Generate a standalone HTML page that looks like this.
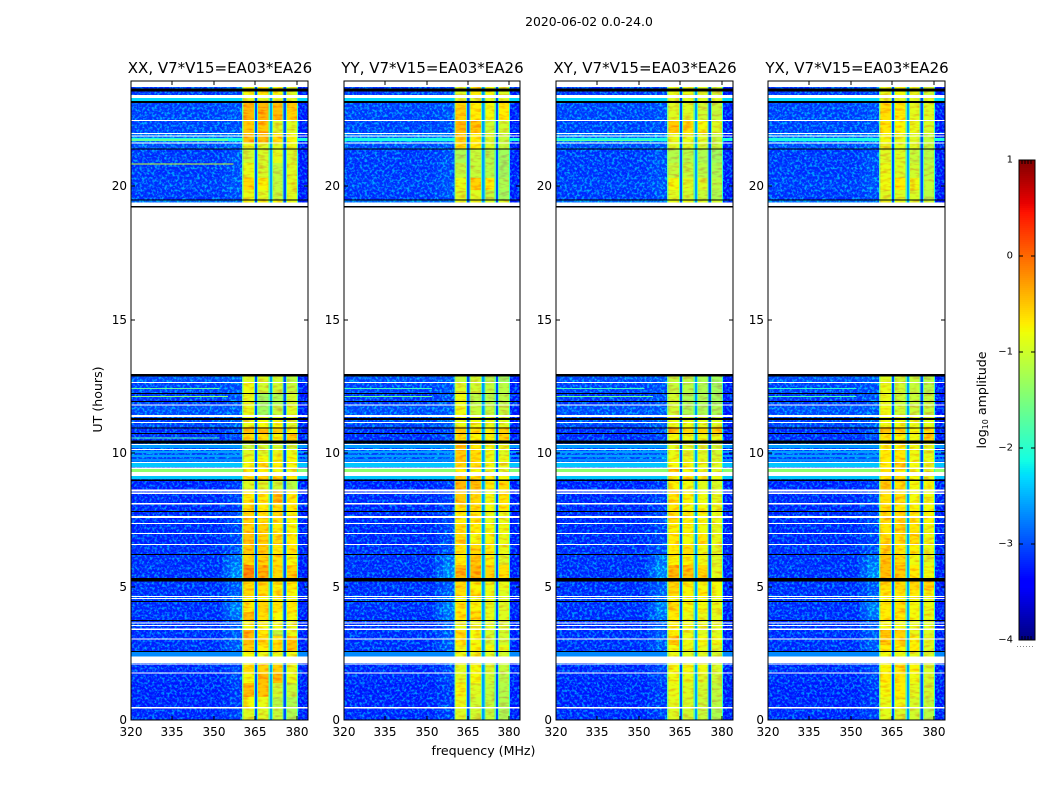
<!DOCTYPE html>
<html lang="en">
<head>
<meta charset="utf-8">
<title>2020-06-02 amplitude spectrograms</title>
<style>
html,body{margin:0;padding:0;background:#fff;width:1050px;height:800px;overflow:hidden}
svg{display:block}
text{font-family:"DejaVu Sans","Liberation Sans",sans-serif;fill:#000}
</style>
</head>
<body>
<svg id="chart" xmlns="http://www.w3.org/2000/svg" width="1050" height="800" viewBox="0 0 1050 800">
<defs>
<filter id="speckle" x="0" y="0" width="100%" height="100%" color-interpolation-filters="sRGB">
<feTurbulence type="fractalNoise" baseFrequency="0.4" numOctaves="2" seed="7"/>
<feColorMatrix type="matrix" values="0 0 0 0 0  3.4 0 0 0 -1.5  0 0 0 0 1  0 0 0 0 0.5"/>
</filter>
<filter id="band-speckle" x="0" y="0" width="100%" height="100%" color-interpolation-filters="sRGB">
<feTurbulence type="fractalNoise" baseFrequency="0.12 0.35" numOctaves="2" seed="11"/>
<feColorMatrix type="matrix" values="0 0 0 0 1  2.6 0 0 0 -0.45  0 0 0 0 0  0 0 0 0 0.28"/>
</filter>
</defs>
<text x="589" y="26" text-anchor="middle" font-size="12.4">2020-06-02 0.0-24.0</text>
<text x="483.5" y="755" text-anchor="middle" font-size="12.6">frequency (MHz)</text>
<text transform="translate(102,399.5) rotate(-90)" text-anchor="middle" font-size="12.6">UT (hours)</text>
<text transform="translate(986,400) rotate(-90)" text-anchor="middle" font-size="12.6">log<tspan font-size="8" dy="2">10</tspan><tspan dy="-2"> amplitude</tspan></text>
</svg>
<script>
// Panel names
const panelTitles = ['XX, V7*V15=EA03*EA26', 'YY, V7*V15=EA03*EA26', 'XY, V7*V15=EA03*EA26', 'YX, V7*V15=EA03*EA26'];
// Axis ticks
const freqTicks = [320, 335, 350, 365, 380];
const hourTicks = [0, 5, 10, 15, 20];
const colorTicks = [1, 0, -1, -2, -3, -4];
// Time rows in UT hours: start, end (top to bottom)
const timeRows = [[23.71,23.30],[23.30,23.16],[23.16,22.47],[22.47,21.99],[21.99,21.63],[21.63,21.39],[21.39,20.86],[20.86,20.30],[20.30,19.85],[19.85,19.47],[19.47,19.20],
[12.93,12.66],[12.66,12.25],[12.25,11.80],[11.80,11.42],[11.42,11.23],[11.23,10.97],[10.97,10.71],[10.71,10.37],[10.37,10.15],[10.15,9.89],[9.89,9.66],[9.66,9.40],[9.40,9.29],[9.29,8.98],[8.98,8.62],[8.62,8.10],[8.10,7.79],[7.79,7.34],[7.34,6.97],[6.97,6.56],[6.56,6.18],[6.18,5.81],[5.81,5.21],[5.21,4.87],[4.87,4.64],[4.64,4.42],[4.42,4.04],[4.04,3.70],[3.70,3.40],[3.40,3.15],[3.15,2.81],[2.81,2.55],[2.55,2.1],[2.1,1.73],[1.73,1.39],[1.39,0.86],[0.86,0.45],[0.45,0]];
// Frequency bands in MHz
const leftFreqBand = [320, 353];
const blendFreqBand = [353, 356];
const glowFreqBand = [356, 360.2];
const edgeFreqBand = [360.2, 360.6];
const channelBands = [[360.6,364.8],[365.6,370.2],[371,375.2],[376,380]];
const gapBands = [[364.8,365.6],[370.2,371],[375.2,376]];
const haloBands = [[364.4,364.8],[365.6,366],[369.8,370.2],[371,371.4],[374.8,375.2],[376,376.4]];
const tailFreqBand = [380, 380.4];
const rightFreqBand = [380.4, 384];
// log10 amplitude values
const gapValues = [-3.0, -2.6, -3.0];
const haloValue = -1.8;
const edgeValue = -1.6;
const tailValue = -2.0;
const rightValue = -3.25;
const bgLeft = [-3.0,-2.3,-2.9,-2.9,-2.5,-2.8,-3.0,-3.0,-2.95,-3.0,-2.5,-2.8,-2.9,-3.0,-2.8,-2.8,-2.9,-3.1,-3.1,-2.8,-2.8,-2.8,-2.8,-2.7,-2.6,-3.2,-3.15,-3.15,-3.15,-3.15,-3.15,-3.1,-3.1,-3.1,-3.1,-3.1,-3.0,-3.1,-3.1,-3.1,-3.1,-3.1,-3.1,-2.9,-3.15,-3.15,-3.2,-3.2,-3.15];
const bgGlow = [-2.9,-2.3,-2.8,-2.8,-2.4,-2.7,-2.8,-2.8,-2.75,-2.8,-2.5,-2.7,-2.8,-2.8,-2.7,-2.7,-2.7,-2.9,-2.9,-2.6,-2.6,-2.5,-2.5,-1.6,-2.5,-3.0,-2.95,-2.95,-2.9,-2.9,-2.9,-2.8,-2.5,-2.3,-2.7,-2.7,-2.6,-2.4,-2.5,-2.7,-2.7,-2.7,-2.7,-2.6,-2.9,-2.9,-3.0,-3.0,-2.95];
const ampXX = [[-.8,-.7,-.8,-1.0],[-1,-1,-1,-1],[-.3,-.3,-.35,-.5],[-.45,-.45,-1.0,-1.0],[-.35,-.35,-.6,-.8],[-.9,-1,-1,-.9],[-1.1,-1.05,-.95,-1.05],[-.9,-1.05,-1.25,-1.0],[-.55,-.75,-1.25,-.95],[-.9,-1,-1.2,-1],[-.8,-.8,-.8,-.9],
[-1.0,-1.0,-1.1,-1.3],[-.85,-1.1,-1.1,-1.2],[-.9,-1.5,-1.4,-1.1],[-.9,-1.5,-1.2,-1.0],[-.9,-1,-1,-1],[-.9,-.8,-.8,-1.0],[-.35,-.4,-.45,-.8],[-.6,-.6,-.75,-.5],[-1.2,-1.1,-1.1,-1.1],[-1.0,-1.0,-.9,-.9],[-.9,-.8,-.8,-.8],[-.8,-.6,-.7,-.8],[-.75,-.7,-.85,-.9],[-.7,-.5,-.5,-.7],[-1.0,-1.0,-1.1,-1.3],[-.7,-.7,-.35,-.7],[-.6,-.7,-.6,-.7],[-.5,-.6,-.6,-.8],[-.5,-.5,-.7,-.8],[-.4,-.5,-.6,-.7],[-.45,-.45,-.7,-.7],[-.55,-.5,-.6,-.8],[0.0,-.25,-.55,-.5],[-.6,-.6,-.75,-.7],[-.55,-.6,-.7,-.8],[-.8,-.8,-.8,-.9],[-.7,-.5,-.65,-.7],[-.35,-.6,-.8,-.8],[-.8,-.8,-.85,-.9],[-.3,-.7,-1.2,-.9],[-.35,-.55,-.65,-.4],[-.5,-.7,-.6,-.4],[-.8,-.9,-.9,-.9],[-.6,-.5,-.5,-.9],[-.8,-.35,-.35,-.9],[-.35,-.4,-1.1,-1.2],[-.8,-.9,-1.3,-1.4],[-1.0,-1.0,-1.2,-1.4]];
const ampYY = [[-1.0,-.7,-.8,-1.0],[-1,-1,-1,-1],[-.5,-.7,-.8,-.7],[-.35,-.4,-1.1,-1.1],[-.5,-.7,-1.0,-1.2],[-.6,-.7,-1.0,-1.2],[-1.4,-1.2,-1.3,-1.5],[-1.2,-1.2,-1.3,-1.5],[-.9,-.5,-.7,-1.4],[-1,-1,-1.2,-1.5],[-.9,-.9,-1,-1],
[-1.2,-1.1,-1.3,-1.5],[-1,-1.1,-1.2,-1.3],[-.85,-1.3,-1.3,-1.3],[-.85,-1.2,-1.2,-1.2],[-.9,-.95,-1,-1.1],[-.9,-.85,-.9,-1],[-.45,-.6,-.7,-.5],[-.6,-.75,-.75,-.5],[-.4,-.7,-.8,-.9],[-.45,-.6,-.85,-1],[-.45,-.6,-.85,-.9],[-.5,-.6,-.8,-.9],[-.7,-.8,-.9,-1],[-.5,-.7,-.7,-.8],[-.3,-.35,-.7,-.6],[-.45,-.55,-.8,-.65],[-.65,-.6,-.8,-.7],[-.7,-.65,-.9,-.9],[-.65,-.7,-.8,-.85],[-.6,-.8,-.75,-.9],[-.65,-.55,-.7,-.9],[-.7,-.45,-.7,-1.0],[-.3,-.3,-.5,-.6],[-.55,-.75,-.85,-.9],[-.6,-.65,-.85,-1],[-.85,-.9,-.9,-1],[-.7,-.75,-.9,-1],[-.65,-.6,-.9,-1],[-.9,-.9,-.95,-1.05],[-.6,-.8,-1.05,-1.1],[-.65,-.8,-1.05,-1.1],[-.85,-.75,-.8,-.9],[-.9,-.85,-1,-1.1],[-.95,-.8,-1.0,-1.2],[-.95,-.8,-1.1,-1.3],[-.8,-1.0,-1.2,-1.35],[-.9,-1.1,-1.2,-1.35],[-1.0,-1.1,-1.2,-1.4]];
const ampXY = [[-.9,-.9,-1,-1.1],[-1,-1,-1,-1],[-1,-1,-1.1,-1.2],[-.45,-.6,-.8,-1.0],[-.9,-.9,-1.0,-1.2],[-1,-1,-1.1,-1.2],[-1.35,-1.3,-1.4,-1.5],[-1.2,-1.2,-1.3,-1.4],[-.8,-1,-1,-1.3],[-1,-1.1,-1.2,-1.4],[-.9,-.9,-1,-1.1],
[-1.2,-1.25,-1.4,-1.5],[-1.2,-1.3,-1.4,-1.5],[-1.1,-1.4,-1.4,-1.5],[-1.1,-1.4,-1.4,-1.4],[-1,-1.1,-1.1,-1.2],[-.9,-.9,-.95,-1],[-.4,-.55,-.5,-.45],[-.8,-.85,-.85,-.9],[-.95,-1,-1,-1.1],[-.9,-1,-1,-1.1],[-.85,-.9,-.95,-1.05],[-.8,-.8,-.9,-1],[-.5,-.8,-.9,-1],[-.8,-.7,-.8,-.9],[-.75,-.85,-.95,-1.05],[-.65,-.75,-.85,-.95],[-.65,-.8,-.8,-.9],[-.6,-.75,-.8,-.9],[-.75,-.75,-.85,-.95],[-.7,-.8,-.65,-.9],[-.7,-.6,-.85,-.95],[-.75,-.75,-.85,-1],[-.35,-.4,-.55,-.95],[-.55,-.75,-.8,-.8],[-.6,-.75,-.7,-.85],[-.8,-.85,-.85,-.95],[-.6,-.8,-.8,-.9],[-.7,-.9,-.9,-.95],[-.75,-.85,-.9,-.95],[-.75,-.9,-1,-1],[-.4,-.85,-.8,-.85],[-.8,-.9,-.9,-1],[-.9,-1,-1,-1.1],[-.8,-.8,-.85,-1.05],[-.85,-.9,-1,-1.15],[-.9,-1,-1.1,-1.25],[-.95,-1.05,-1.15,-1.3],[-1,-1.1,-1.2,-1.4]];
const ampYX = [[-.9,-.8,-.9,-1.1],[-1,-1,-1,-1],[-.6,-.7,-.95,-1],[-.65,-.75,-.9,-1.05],[-.8,-.9,-1,-1.2],[-.9,-.95,-1,-1.2],[-1.0,-1.0,-1.2,-1.3],[-.9,-1.0,-1.1,-1.25],[-.85,-.7,-.85,-1.2],[-1,-1,-1.05,-1.3],[-.9,-.9,-1,-1.1],
[-1,-1.1,-1.2,-1.3],[-.9,-1.1,-1.2,-1.3],[-.9,-1.15,-1.2,-1.2],[-.85,-1.1,-1.15,-1.2],[-.9,-1,-1,-1.1],[-.85,-.85,-.9,-.95],[-.4,-.5,-.8,-.6],[-.7,-.75,-.85,-.55],[-.75,-.75,-.85,-.95],[-.7,-.65,-.85,-.95],[-.7,-.65,-.85,-.9],[-.7,-.5,-.8,-.9],[-.6,-.75,-.85,-.95],[-.7,-.6,-.8,-.9],[-.45,-.6,-.8,-.8],[-.6,-.6,-.8,-.85],[-.6,-.65,-.75,-.8],[-.55,-.55,-.7,-.75],[-.65,-.55,-.65,-.85],[-.6,-.6,-.6,-.85],[-.55,-.65,-.75,-.9],[-.4,-.55,-.85,-.95],[-.35,-.45,-.7,-.85],[-.6,-.6,-.55,-.55],[-.7,-.65,-.7,-.8],[-.8,-.8,-.85,-.95],[-.7,-.65,-.8,-.9],[-.7,-.7,-.8,-.9],[-.8,-.85,-.9,-.95],[-.4,-.5,-.9,-1],[-.45,-.55,-.75,-.95],[-.7,-.75,-.7,-1],[-.85,-.9,-.95,-1.05],[-.75,-.65,-.75,-1.05],[-.7,-.65,-.85,-1.05],[-.8,-.7,-.95,-1.1],[-.9,-.85,-1.05,-1.2],[-.95,-1,-1.1,-1.3]];
// Broadband bright rows in the out-of-band background: start hour, end hour, log10 amplitude
const brightRows = [[23.30,23.19,-2.3],[21.80,21.68,-2.1],[10.30,10.19,-2.6],[10.07,10.0,-2.6],[9.93,9.85,-2.6],[9.78,9.68,-2.7],[9.63,9.48,-2.4],[9.40,9.29,-1.4],[9.14,9.03,-2.4],[2.55,2.38,-2.7]];
// Flagged time ranges in UT hours
const whiteFlags = [[24,23.71],[23.41,23.30],[22.47,22.45],[21.98,21.95],[21.89,21.86],[21.63,21.61],[19.39,19.26],[19.20,12.96],[12.66,12.63],[11.81,11.77],[11.42,11.35],[11.17,11.13],[10.34,10.30],[10.15,10.11],[9.66,9.62],[9.45,9.40],[9.29,9.14],[8.64,8.56],[8.52,8.46],[8.12,8.08],[7.64,7.57],[7.38,7.34],[7.01,6.97],[6.59,6.56],[4.64,4.61],[4.57,4.54],[3.66,3.62],[3.55,3.52],[3.43,3.38],[3.05,3.01],[2.38,2.13],[2.11,2.07],[1.77,1.74],[0.48,0.44]];
const blackFlags = [[23.65,23.54],[23.19,23.11],[21.41,21.38],[19.49,19.46],[19.25,19.20],[12.96,12.86],[12.25,12.22],[11.95,11.92],[11.32,11.23],[10.96,10.94],[10.74,10.71],[10.46,10.36],[9.0,8.96],[7.83,7.80],[6.22,6.18],[5.32,5.19],[4.46,4.43],[3.74,3.70],[2.59,2.55]];
// Narrow-band interference: panel index, hour, start MHz, end MHz, log10 amplitude
const rfiLines = [[0,20.84,320,357,-1.0],[0,21.74,320,355,-1.2],[0,12.14,320,355,-1.4],[0,12.43,320,352,-1.7],[0,10.58,320,352,-1.8],[1,12.14,320,352,-1.6],[1,12.43,320,352,-1.9],[2,12.14,320,355,-1.6],[2,12.43,320,352,-1.9],[2,21.72,320,355,-1.7],[3,12.14,320,352,-1.8],[3,12.43,320,352,-2.0]];

const panelAmps = [ampXX, ampYY, ampXY, ampYX];
const panelLeft = [131, 344, 556, 768];
const panelWidth = [177, 176, 177, 177];
const plotTop = 81, plotBottom = 720;
const pxPerHour = 26.7;
const svg = document.getElementById('chart');
const NS = 'http://www.w3.org/2000/svg';

function xScale(p, f) { return panelLeft[p] + (f - 320) * panelWidth[p] / 64; }
function yScale(h) { return Math.max(plotTop, plotBottom - h * pxPerHour); }
function interp(t, pts) {
  for (let i = 1; i < pts.length; i++) {
    if (t <= pts[i][0]) {
      const a = pts[i - 1], b = pts[i];
      return a[1] + (b[1] - a[1]) * (t - a[0]) / (b[0] - a[0]);
    }
  }
  return pts[pts.length - 1][1];
}
function jet(v) {
  const t = Math.max(0, Math.min(1, (v + 4) / 5));
  const r = interp(t, [[0,0],[.35,0],[.66,1],[.89,1],[1,.5]]);
  const g = interp(t, [[0,0],[.125,0],[.375,1],[.64,1],[.91,0],[1,0]]);
  const b = interp(t, [[0,.5],[.11,1],[.34,1],[.65,0],[1,0]]);
  return 'rgb(' + Math.round(r * 255) + ',' + Math.round(g * 255) + ',' + Math.round(b * 255) + ')';
}
function make(tag, parent) {
  const el = document.createElementNS(NS, tag);
  parent.appendChild(el);
  return el;
}
function box(el, x0, x1, y0, y1, fill) {
  el.setAttribute('x', x0);
  el.setAttribute('y', y0);
  el.setAttribute('width', Math.max(x1 - x0, 1));
  el.setAttribute('height', Math.max(y1 - y0, 1));
  el.setAttribute('fill', fill);
  el.setAttribute('shape-rendering', 'crispEdges');
}
function cell(g, p, fa, fb, row, v) {
  const el = make('rect', g);
  
  
  box(el, xScale(p, fa), xScale(p, fb), yScale(row[0]), yScale(row[1]), jet(v));
}
function texture(g, p, fa, fb, filterId) {
  const el = make('rect', g);
  
  
  el.setAttribute('x', xScale(p, fa));
  el.setAttribute('y', plotTop);
  el.setAttribute('width', xScale(p, fb) - xScale(p, fa));
  el.setAttribute('height', plotBottom - plotTop);
  el.setAttribute('filter', 'url(#' + filterId + ')');
}
function tick(g, x1, y1, x2, y2) {
  const el = make('line', g);
  
  
  el.setAttribute('x1', x1);
  el.setAttribute('y1', y1);
  el.setAttribute('x2', x2);
  el.setAttribute('y2', y2);
  el.setAttribute('stroke', '#000');
  el.setAttribute('stroke-width', '1');
  el.setAttribute('shape-rendering', 'crispEdges');
}
function label(g, x, y, anchor, size, str) {
  const el = make('text', g);
  el.setAttribute('x', x);
  el.setAttribute('y', y);
  el.setAttribute('text-anchor', anchor);
  el.setAttribute('font-size', size);
  el.textContent = str;
  return el;
}

panelTitles.forEach(function (title, p) {
  const amps = panelAmps[p];
  const L = panelLeft[p], W = panelWidth[p];
  const g = make('g', svg);
  
  

  timeRows.forEach(function (row, i) {
    cell(g, p, leftFreqBand[0], leftFreqBand[1], row, bgLeft[i]);
    cell(g, p, blendFreqBand[0], blendFreqBand[1], row, (bgLeft[i] + bgGlow[i]) / 2);
    cell(g, p, glowFreqBand[0], glowFreqBand[1], row, bgGlow[i]);
    cell(g, p, rightFreqBand[0], rightFreqBand[1], row, rightValue);
  });
  // receiver-noise speckle texture over the out-of-band background
  texture(g, p, 320, 360.2, 'speckle');
  texture(g, p, 380.4, 384, 'speckle');

  brightRows.forEach(function (b) {
    cell(g, p, leftFreqBand[0], glowFreqBand[1], b, b[2]);
    cell(g, p, rightFreqBand[0], rightFreqBand[1], b, b[2]);
  });

  timeRows.forEach(function (row, i) {
    cell(g, p, edgeFreqBand[0], edgeFreqBand[1], row, edgeValue);
    channelBands.forEach(function (band, c) {
      cell(g, p, band[0], band[1], row, amps[i][c]);
    });
  });
  // in-band ripple texture
  texture(g, p, 360.6, 380, 'band-speckle');
  timeRows.forEach(function (row) {
    haloBands.forEach(function (band) {
      cell(g, p, band[0], band[1], row, haloValue);
    });
    gapBands.forEach(function (band, c) {
      cell(g, p, band[0], band[1], row, gapValues[c]);
    });
    cell(g, p, tailFreqBand[0], tailFreqBand[1], row, tailValue);
  });

  rfiLines.filter(function (r) { return r[0] === p; }).forEach(function (r) {
    const el = make('rect', g);
    
    
    box(el, xScale(p, r[2]), xScale(p, r[3]), yScale(r[1]), yScale(r[1]) + 1, jet(r[4]));
  });
  whiteFlags.forEach(function (f) {
    const el = make('rect', g);
    
    
    box(el, L, L + W, yScale(f[0]), yScale(f[1]), '#fff');
  });
  blackFlags.forEach(function (f) {
    const el = make('rect', g);
    
    
    box(el, L, L + W, yScale(f[0]), yScale(f[1]), '#000');
  });

  const frame = make('rect', g);
  
  
  frame.setAttribute('x', L);
  frame.setAttribute('y', plotTop);
  frame.setAttribute('width', W);
  frame.setAttribute('height', plotBottom - plotTop);
  frame.setAttribute('fill', 'none');
  frame.setAttribute('stroke', '#000');
  frame.setAttribute('stroke-width', '1');
  frame.setAttribute('shape-rendering', 'crispEdges');

  freqTicks.forEach(function (f) {
    const x = Math.round(xScale(p, f));
    tick(g, x, plotTop, x, plotTop + 4);
    tick(g, x, plotBottom, x, plotBottom - 4);
    const t = label(g, x, 736, 'middle', 12, String(f));
    
    
  });
  hourTicks.forEach(function (h) {
    const y = Math.round(yScale(h));
    tick(g, L, y, L + 4, y);
    tick(g, L + W, y, L + W - 4, y);
    const t = label(g, L - 4, y + 4, 'end', 12, String(h));
    
    
  });
  const tt = label(g, L + W / 2 + 0.5, 73, 'middle', 15, title);
  
  
});

// Colorbar
const cbLeft = 1019, cbRight = 1035, cbTop = 160, cbBottom = 640;
const cbMin = -4, cbMax = 1;
function cbScale(v) { return cbBottom - (v - cbMin) * (cbBottom - cbTop) / (cbMax - cbMin); }
const cb = make('g', svg);


for (let y = cbTop; y < cbBottom; y += 2) {
  const el = make('rect', cb);
  
  
  const v = cbMax - (y + 1 - cbTop) * (cbMax - cbMin) / (cbBottom - cbTop);
  box(el, cbLeft, cbRight, y, y + 2, jet(v));
}
const cbFrame = make('rect', cb);


cbFrame.setAttribute('x', cbLeft);
cbFrame.setAttribute('y', cbTop);
cbFrame.setAttribute('width', cbRight - cbLeft);
cbFrame.setAttribute('height', cbBottom - cbTop);
cbFrame.setAttribute('fill', 'none');
cbFrame.setAttribute('stroke', '#000');
cbFrame.setAttribute('stroke-width', '1');
cbFrame.setAttribute('shape-rendering', 'crispEdges');
colorTicks.forEach(function (v) {
  const y = Math.round(cbScale(v));
  if (v !== cbMin && v !== cbMax) {
    tick(cb, cbLeft, y, cbLeft + 4, y);
    tick(cb, cbRight, y, cbRight - 4, y);
  }
  const str = v < 0 ? '\u2212' + Math.abs(v) : String(v);
  const t = label(cb, 1013, y + 2.5, 'end', 10, str);
  
  
});
for (let x = cbLeft + 3; x < cbRight - 1; x += 3) {
  tick(cb, x, cbTop, x, cbTop + 4);
  tick(cb, x, cbBottom, x, cbBottom - 4);
}
const dots = make('line', cb);


dots.setAttribute('x1', 1017);
dots.setAttribute('y1', 646.5);
dots.setAttribute('x2', 1035);
dots.setAttribute('y2', 646.5);
dots.setAttribute('stroke', '#888');
dots.setAttribute('stroke-width', '1');
dots.setAttribute('stroke-dasharray', '1 2');
</script>
</body>
</html>
